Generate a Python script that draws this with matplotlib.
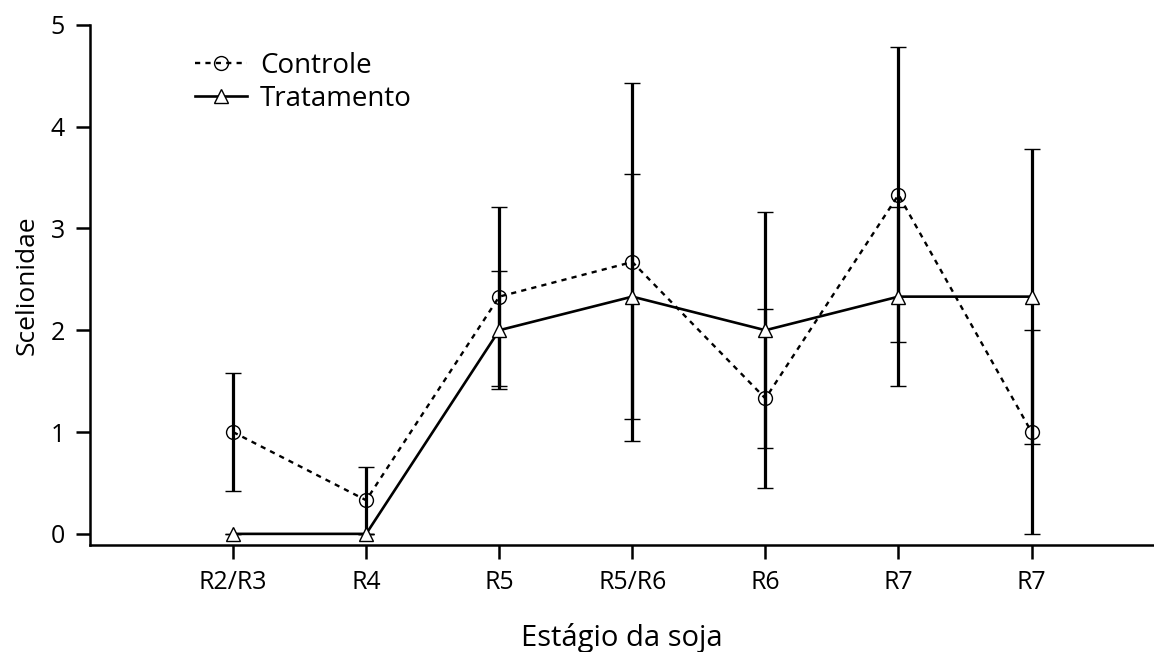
import numpy as np
import matplotlib
matplotlib.use("Agg")
import matplotlib.pyplot as plt
from matplotlib.lines import Line2D

plt.rcParams['font.family'] = ['Open Sans', 'DejaVu Sans']

# Dados
estagios = ['R2/R3', 'R4', 'R5', 'R5/R6', 'R6', 'R7', 'R7']
controle = [1.0, 0.33, 2.33, 2.67, 1.33, 3.33, 1.0]
controle_err = [0.58, 0.33, 0.88, 1.76, 0.88, 1.45, 1.0]
tratamento = [0.0, 0.0, 2.0, 2.33, 2.0, 2.33, 2.33]
tratamento_err = [0.0, 0.0, 0.58, 1.2, 1.16, 0.88, 1.45]

x = np.arange(len(estagios))

fig = plt.figure(figsize=(11.54, 6.52), dpi=100)
ax = fig.add_axes([0.078, 0.164, 0.922, 0.798])

estilo_ctrl = dict(color='black', lw=1.7, linestyle=(0, (2.2, 2.2)),
                   marker='o', markersize=10, markerfacecolor='none',
                   markeredgewidth=1.0)
estilo_trat = dict(color='black', lw=1.9, linestyle='-',
                   marker='^', markersize=10, markerfacecolor='white',
                   markeredgewidth=1.0)

ax.errorbar(x, controle, yerr=controle_err, ecolor='black', elinewidth=2.3,
            capsize=6, capthick=2.3, **estilo_ctrl)
ax.errorbar(x, tratamento, yerr=tratamento_err, ecolor='black', elinewidth=2.3,
            capsize=6, capthick=2.3, **estilo_trat)

ax.set_xlim(-1.075, 6.92)
ax.set_ylim(-0.11, 5.0)
ax.set_xticks(x)
ax.set_xticklabels(estagios)
ax.set_yticks([0, 1, 2, 3, 4, 5])

for s in ['top', 'right']:
    ax.spines[s].set_visible(False)
for s in ['left', 'bottom']:
    ax.spines[s].set_linewidth(1.8)

ax.tick_params(axis='both', direction='out', length=10, width=1.8,
               labelsize=18, pad=8)

ax.set_xlabel('Estágio da soja', fontsize=21, labelpad=20)
ax.set_ylabel('Scelionidae', fontsize=19, labelpad=8)

handles = [Line2D([], [], **estilo_ctrl), Line2D([], [], **estilo_trat)]
ax.legend(handles, ['Controle', 'Tratamento'], loc='upper left',
          bbox_to_anchor=(0.08, 0.985), frameon=False, fontsize=20,
          handlelength=1.9, handletextpad=0.45, labelspacing=0.18,
          borderaxespad=0.3)

fig.savefig('out.png', dpi=100)
